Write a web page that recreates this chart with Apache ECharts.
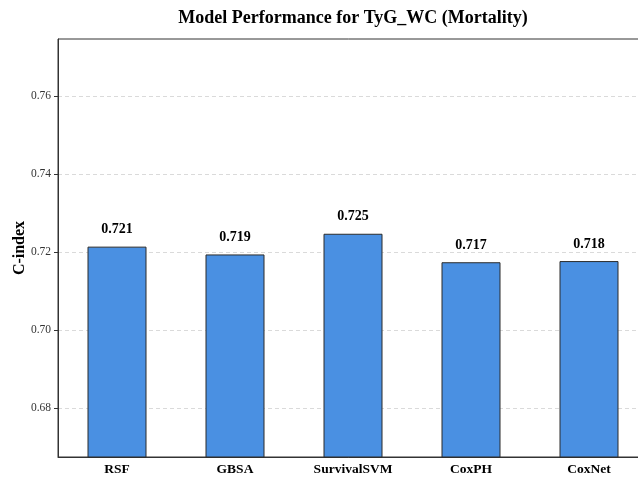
<!DOCTYPE html>
<html>
<head>
<meta charset="utf-8">
<script src="https://cdn.jsdelivr.net/npm/echarts@6/dist/echarts.min.js"></script>
<style>html,body{margin:0;padding:0;background:#fff}#c{width:638px;height:484px}</style>
</head>
<body>
<div id="c"></div>
<script>
var categories = ['RSF', 'GBSA', 'SurvivalSVM', 'CoxPH', 'CoxNet'];
var cindex = [0.7214, 0.7194, 0.7247, 0.7174, 0.7177];
var yTicks = [0.68, 0.70, 0.72, 0.74, 0.76];

var FONT = '"Liberation Serif", "Times New Roman", serif';
var chart = echarts.init(document.getElementById('c'));
chart.setOption({
  backgroundColor: '#fff',
  animation: false,
  title: {
    text: 'Model Performance for TyG_WC (Mortality)',
    left: 348, top: 4, textAlign: 'center',
    textStyle: {fontFamily: FONT, fontWeight: 'bold', fontSize: 18, color: '#000'}
  },
  grid: {left: 58, top: 39, width: 590, height: 418, outerBoundsMode: 'none', containLabel: false, show: true, borderColor: '#333', borderWidth: 1, backgroundColor: 'transparent'},
  xAxis: {
    type: 'category',
    data: categories,
    axisLine: {lineStyle: {color: '#333', width: 1}},
    axisTick: {alignWithLabel: true, length: 4, lineStyle: {color: '#333'}},
    axisLabel: {fontFamily: FONT, fontWeight: 'bold', fontSize: 13.5, color: '#000', margin: 6}
  },
  yAxis: {
    type: 'value',
    min: 0.6675, max: 0.7746,
    name: 'C-index',
    nameLocation: 'middle',
    nameGap: 30,
    nameMoveOverlap: false,
    nameTextStyle: {fontFamily: FONT, fontWeight: 'bold', fontSize: 16, color: '#000'},
    axisLine: {show: true, lineStyle: {color: '#333'}},
    axisTick: {show: true, length: 4, customValues: yTicks, lineStyle: {color: '#333'}},
    axisLabel: {
      fontFamily: FONT, fontSize: 11.5, color: '#333', margin: 7,
      customValues: yTicks,
      formatter: function (v) { return v.toFixed(2); }
    },
    splitLine: {show: true, lineStyle: {color: '#d0d0d0', type: [4, 3], width: 0.8}}
  },
  series: [{
    type: 'bar',
    data: cindex,
    barWidth: 59,
    itemStyle: {color: '#4a90e2', borderColor: '#2b2b2b', borderWidth: 1},
    label: {
      show: true, position: 'top', distance: 10,
      fontFamily: FONT, fontWeight: 'bold', fontSize: 14, color: '#000',
      formatter: function (p) { return p.value.toFixed(3); }
    }
  }]
});
</script>
</body>
</html>
